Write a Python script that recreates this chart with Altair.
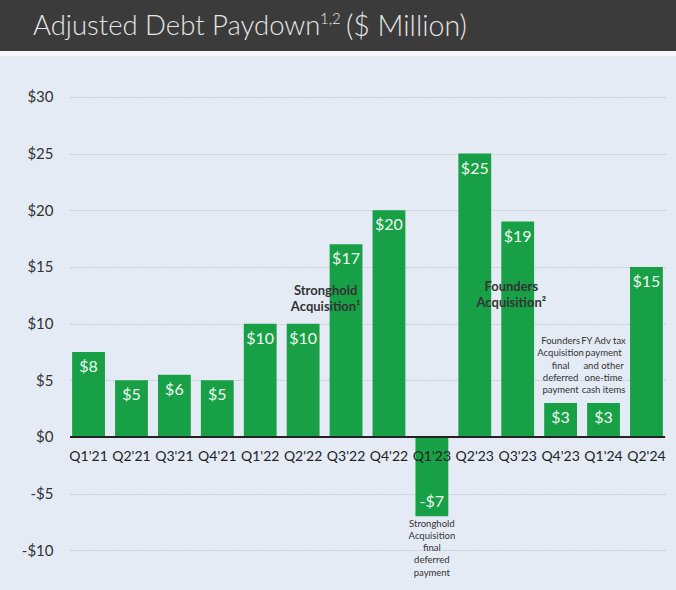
import altair as alt
import pandas as pd

quarters = ["Q1'21", "Q2'21", "Q3'21", "Q4'21", "Q1'22", "Q2'22", "Q3'22",
            "Q4'22", "Q1'23", "Q2'23", "Q3'23", "Q4'23", "Q1'24", "Q2'24"]
values = [7.5, 5, 5.5, 5, 10, 10, 17, 20, -7, 25, 19, 3, 3, 15]
value_labels = ["$8", "$5", "$6", "$5", "$10", "$10", "$17", "$20", "-$7",
                "$25", "$19", "$3", "$3", "$15"]

title_main = "Adjusted Debt Paydown"
title_sup = "1,2"
title_tail = "($ Million)"

big_notes_q = ["Q3'22", "Q3'23"]
big_notes_y = [13.4, 13.8]
big_notes_text = [["Stronghold", "Acquisition¹"], ["Founders", "Acquisition²"]]
big_notes_dx = [-20, -6]

small_notes_q = ["Q1'23", "Q4'23", "Q1'24"]
small_notes_y = [-7.2, 8.9, 8.9]
small_notes_text = [
    ["Stronghold", "Acquisition", "final", "deferred", "payment"],
    ["Founders", "Acquisition", "final", "deferred", "payment"],
    ["FY Adv tax", "payment", "and other", "one-time", "cash items"],
]

FONT = "Lato"
GREEN = "#18a047"
HALF_BAND = 16

df = pd.DataFrame({"q": quarters, "v": values, "lab": value_labels})
big = pd.DataFrame({"q": big_notes_q, "y": big_notes_y, "t": big_notes_text, "dx": big_notes_dx})
small = pd.DataFrame({"q": small_notes_q, "y": small_notes_y, "t": small_notes_text})
one = pd.DataFrame({"a": [title_main], "b": [title_sup], "c": [title_tail]})

xscale = alt.Scale(domain=quarters, paddingInner=0.235, paddingOuter=0.05)
yscale = alt.Scale(domain=[-13.5, 33.7], nice=False, zero=False)

X = alt.X("q:N", scale=xscale, axis=None, sort=quarters)

base = alt.Chart(df)

bars = base.mark_bar(color=GREEN).encode(
    x=X,
    y=alt.Y("v:Q", scale=yscale, title=None,
            axis=alt.Axis(values=[-10, -5, 0, 5, 10, 15, 20, 25, 30],
                          labelExpr="datum.value < 0 ? '-$' + abs(datum.value) : '$' + datum.value",
                          domain=False, ticks=False, labelPadding=17,
                          labelFont=FONT, labelFontSize=15, labelColor="#333333",
                          grid=True, gridColor="#a8adb5", gridDash=[1, 2],
                          gridWidth=1)),
    y2=alt.datum(0),
)

pos_labels = base.transform_filter("datum.v >= 0").mark_text(
    font=FONT, fontSize=16, color="#f2faf2", baseline="middle", dy=15
).encode(x=X, y=alt.Y("v:Q", scale=yscale), text="lab:N")

neg_labels = base.transform_filter("datum.v < 0").mark_text(
    font=FONT, fontSize=16, color="#f2faf2", baseline="middle", dy=-14
).encode(x=X, y=alt.Y("v:Q", scale=yscale), text="lab:N")

zero = alt.Chart(one).mark_rule(color="#222222", strokeWidth=2).encode(
    y=alt.Y(datum=0, scale=yscale)
)

xlabels = base.mark_text(
    font=FONT, fontSize=14, color="#222222", baseline="middle", dy=20
).encode(x=X, y=alt.Y(datum=0, scale=yscale), text="q:N")

big_notes = alt.Chart(big).transform_calculate(
    off=f"datum.dx + {HALF_BAND}"
).mark_text(
    font=FONT, fontSize=13, fontWeight="bold", color="#333333",
    baseline="top", lineHeight=16
).encode(x=X, y=alt.Y("y:Q", scale=yscale), text="t",
         xOffset=alt.XOffset("off:Q", scale=None))

small_notes = alt.Chart(small).mark_text(
    font=FONT, fontSize=9.5, color="#333333", baseline="top", lineHeight=12.3
).encode(x=X, y=alt.Y("y:Q", scale=yscale), text="t")

title_bar = alt.Chart(one).mark_rect(color="#3b3b3b").encode(
    x=alt.value(-70), x2=alt.value(606), y=alt.value(-55), y2=alt.value(-4)
)
title_strip = alt.Chart(one).mark_rect(color="#f6f8fb").encode(
    x=alt.value(-70), x2=alt.value(606), y=alt.value(-4), y2=alt.value(1)
)
title_a = alt.Chart(one).mark_text(
    font=FONT, fontSize=27.5, fontWeight=300, color="#e6e6e6", align="left",
    baseline="middle"
).encode(x=alt.value(-37), y=alt.value(-28), text="a:N")
title_b = alt.Chart(one).mark_text(
    font=FONT, fontSize=15, fontWeight=300, color="#e6e6e6", align="left",
    baseline="middle"
).encode(x=alt.value(250), y=alt.value(-36), text="b:N")
title_c = alt.Chart(one).mark_text(
    font=FONT, fontSize=28.5, fontWeight=300, color="#e6e6e6", align="left",
    baseline="middle"
).encode(x=alt.value(276), y=alt.value(-28), text="c:N")

chart = alt.layer(
    bars, zero, pos_labels, neg_labels, xlabels, big_notes, small_notes,
    title_bar, title_strip, title_a, title_b, title_c
).properties(
    width=595, height=535,
    autosize=alt.AutoSizeParams(type="none"),
    padding={"left": 70, "top": 55, "right": 11, "bottom": 0},
    background="#e5ebf5",
).configure_view(stroke=None)

chart.save("out.html", embed_options={"renderer": "svg", "actions": False})
